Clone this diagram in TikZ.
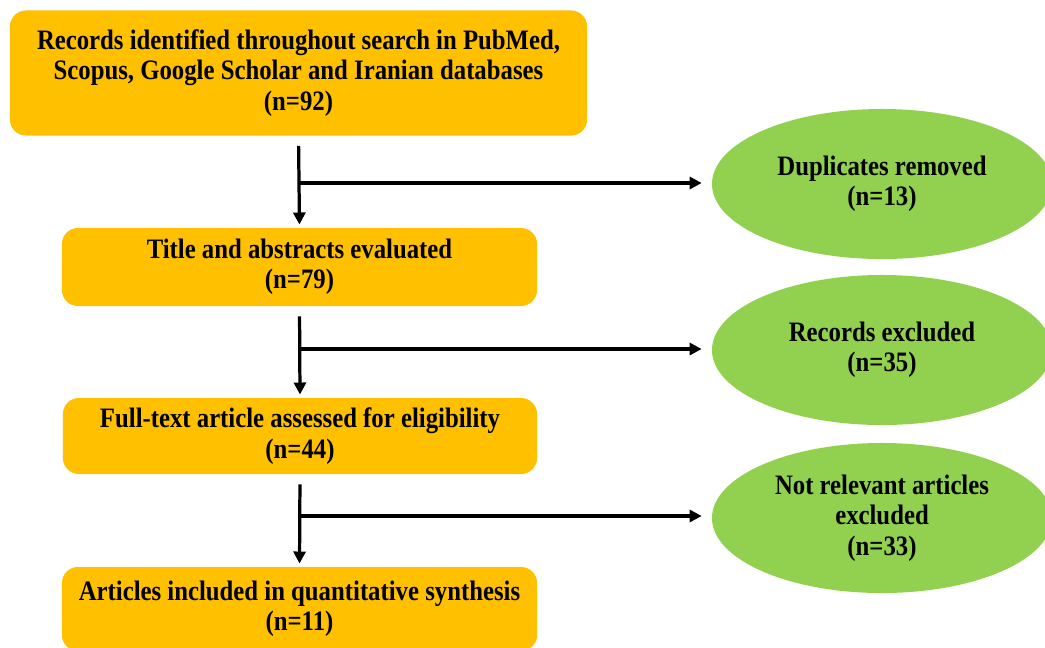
\documentclass[tikz,border=0pt]{standalone}
\usepackage{fontspec}
\setmainfont{Liberation Serif}[FakeStretch=0.88]
\usepackage{tikz}
\usetikzlibrary{calc,arrows.meta,shapes.geometric}

\definecolor{boxorange}{HTML}{FFC000}
\definecolor{ellgreen}{HTML}{92D050}

\begin{document}
\begin{tikzpicture}[x=0.025cm,y=-0.025cm,
	stagebox/.style={fill=boxorange, rounded corners=0.4cm, align=center,
		font=\fontsize{20}{21.5}\selectfont\bfseries, inner sep=0pt},
	excluded/.style={ellipse, fill=ellgreen, align=center, inner sep=0pt,
		minimum width=8.5cm, minimum height=3.75cm,
		font=\fontsize{20}{21.5}\selectfont\bfseries},
	flow/.style={line width=2.3pt, -{Triangle[length=0.3cm,width=0.3cm]}}]
	\newcommand{\gapTop}{0.25cm}
	\newcommand{\gapEnd}{0.08cm}

	\useasboundingbox (0,0) rectangle (1045,647);

	% stage boxes
	\node[stagebox, minimum width=14.425cm, minimum height=3.125cm] (records) at (298.5,73)
		{Records identified throughout search in PubMed,\\
		Scopus, Google Scholar and Iranian databases\\(n=92)};
	\node[stagebox, minimum width=11.875cm, minimum height=1.95cm] (titles) at (299.5,267)
		{Title and abstracts evaluated\\(n=79)};
	\node[stagebox, minimum width=11.85cm, minimum height=1.9cm] (fulltext) at (300,436)
		{Full-text article assessed for eligibility\\(n=44)};
	\node[stagebox, minimum width=11.875cm, minimum height=2.1cm] (included) at (299.5,609)
		{Articles included in quantitative synthesis\\(n=11)};

	% exclusion ellipses
	\node[excluded] (duplicates) at (882,184) {Duplicates removed\\(n=13)};
	\node[excluded] (recexcl) at (882,350) {Records excluded\\(n=35)};
	\node[excluded] (notrel) at (882,518) {Not relevant articles\\excluded\\(n=33)};

	% junctions on the main line
	\coordinate (j1) at (298.5,183);
	\coordinate (j2) at (299.5,349);
	\coordinate (j3) at (300,516);

	% draw arrows
	\draw[flow, shorten <=\gapTop, shorten >=\gapEnd] (records.south) -- (titles.north);
	\draw[flow, shorten <=\gapTop, shorten >=\gapEnd] (titles.south) -- (fulltext.north);
	\draw[flow, shorten <=\gapTop, shorten >=\gapEnd] (fulltext.south) -- (included.north);
	\draw[flow, shorten >=\gapTop] (j1) -- (j1 -| duplicates.west);
	\draw[flow, shorten >=\gapTop] (j2) -- (j2 -| recexcl.west);
	\draw[flow, shorten >=\gapTop] (j3) -- (j3 -| notrel.west);
\end{tikzpicture}
\end{document}
